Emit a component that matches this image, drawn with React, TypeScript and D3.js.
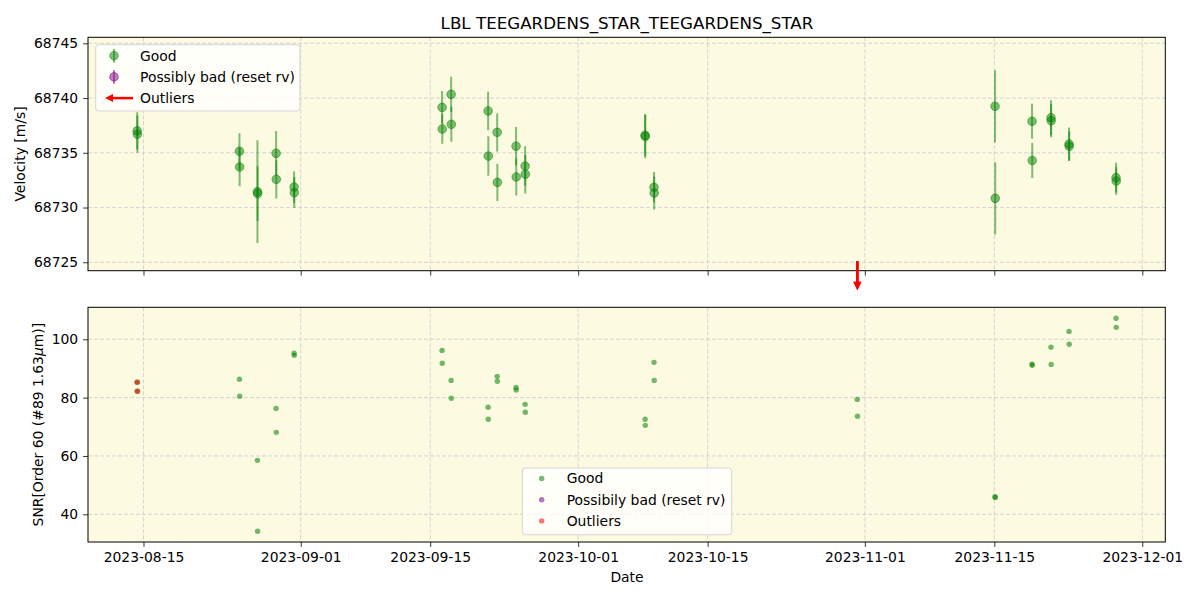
import React, { useEffect, useRef } from 'react';
import * as d3 from 'd3';

// observation times (two exposures per night)
const dates = [
    '2023-08-14T07:40', '2023-08-14T08:10',
    '2023-08-25T09:00', '2023-08-25T09:30',
    '2023-08-27T07:40', '2023-08-27T08:10',
    '2023-08-29T08:10', '2023-08-29T08:40',
    '2023-08-31T06:50', '2023-08-31T07:20',
    '2023-09-16T06:50', '2023-09-16T07:20',
    '2023-09-17T06:20', '2023-09-17T06:50',
    '2023-09-21T06:20', '2023-09-21T06:50',
    '2023-09-22T05:50', '2023-09-22T06:20',
    '2023-09-24T06:50', '2023-09-24T07:20',
    '2023-09-25T06:20', '2023-09-25T06:50',
    '2023-10-08T05:40', '2023-10-08T06:10',
    '2023-10-09T04:50', '2023-10-09T05:20',
    '2023-10-31T04:20', '2023-10-31T04:50',
    '2023-11-15T01:50', '2023-11-15T02:20',
    '2023-11-19T01:50', '2023-11-19T02:20',
    '2023-11-21T03:00', '2023-11-21T03:30',
    '2023-11-23T01:50', '2023-11-23T02:20',
    '2023-11-28T03:50', '2023-11-28T04:20',
];

const velocity = [
    68737.0, 68736.7,
    68735.14, 68733.7,
    68731.45, 68731.27,
    68734.95, 68732.58,
    68731.87, 68731.36,
    68739.15, 68737.17,
    68740.34, 68737.6,
    68738.82, 68734.7,
    68736.87, 68732.3,
    68735.6, 68732.79,
    68733.79, 68733.04,
    68736.6, 68736.5,
    68731.85, 68731.33,
    68712.0, 68713.0,
    68739.25, 68730.84,
    68737.88, 68734.3,
    68738.2, 68737.93,
    68735.8, 68735.6,
    68732.73, 68732.42,
];

const velocityErr = [
    1.7, 1.7,
    1.65, 1.75,
    4.7, 2.5,
    2.05, 1.75,
    1.45, 1.4,
    1.5, 1.35,
    1.6, 1.6,
    1.75, 1.8,
    1.75, 1.7,
    1.75, 1.7,
    1.8, 1.75,
    1.9, 2.0,
    1.4, 1.5,
    1.8, 1.8,
    3.3, 3.3,
    1.6, 1.6,
    1.6, 1.5,
    1.5, 1.35,
    1.35, 1.25,
];

const snr = [
    85.3, 82.2,
    86.3, 80.5,
    58.5, 34.2,
    76.3, 68.1,
    95.2, 94.5,
    96.2, 91.8,
    85.9, 79.8,
    76.7, 72.6,
    87.3, 85.6,
    83.5, 82.6,
    77.7, 75.0,
    72.6, 70.5,
    92.1, 85.9,
    79.4, 73.6,
    46.0, 45.8,
    91.5, 91.1,
    97.3, 91.4,
    102.7, 98.3,
    107.2, 104.1,
];

// flagged as outliers in the SNR panel
const outlierFlag = [
    true, true,
    false, false, false, false, false, false, false, false,
    false, false, false, false, false, false, false, false,
    false, false, false, false, false, false, false, false,
    false, false, false, false, false, false, false, false,
    false, false, false, false,
];

const xTicks = ['2023-08-15', '2023-09-01', '2023-09-15', '2023-10-01', '2023-10-15', '2023-11-01', '2023-11-15', '2023-12-01'];
const rvTicks = [68725, 68730, 68735, 68740, 68745];
const snrTicks = [40, 60, 80, 100];
const legendLabels = ['Good', 'Possibly bad (reset rv)', 'Outliers'];
const legendLabels2 = ['Good', 'Possibily bad (reset rv)', 'Outliers'];

const FONT = 'DejaVu Sans, sans-serif';
const BG = '#fcfae1';
const GRID = '#cfcfd4';

function App() {
    const ref = useRef<SVGSVGElement>(null);

    useEffect(() => {
        document.body.style.margin = '0';
        const svg = d3.select(ref.current);
        svg.selectAll('*').remove();

        const w = 1200, h = 600;
        const left = 88, right = 1165.3;
        const top1 = 37.3, bottom1 = 270.7;
        const top2 = 307.3, bottom2 = 542;

        const parse = d3.timeParse('%Y-%m-%dT%H:%M');
        const parseDay = d3.timeParse('%Y-%m-%d');
        const fmt = d3.timeFormat('%Y-%m-%d');
        const times = dates.map(d => parse(d) as Date);

        const x = d3.scaleTime()
            .domain([parse('2023-08-09T00:00') as Date, parse('2023-12-03T11:40') as Date])
            .range([left, right]);
        const yRv = d3.scaleLinear().domain([68724.23, 68745.55]).range([bottom1, top1]);
        const ySnr = d3.scaleLinear().domain([30.5, 110.97]).range([bottom2, top2]);

        svg.attr('width', w).attr('height', h).style('font-family', FONT);
        svg.append('rect').attr('width', w).attr('height', h).attr('fill', 'white');

        const tickDates = xTicks.map(t => parseDay(t) as Date);

        const drawFrame = (top: number, bottom: number, y: d3.ScaleLinear<number, number>, ticks: number[], showX: boolean) => {
            const g = svg.append('g');
            g.append('rect').attr('x', left).attr('y', top).attr('width', right - left).attr('height', bottom - top).attr('fill', BG);
            // grid
            g.selectAll('.gx').data(tickDates).enter().append('line')
                .attr('x1', d => x(d)).attr('x2', d => x(d)).attr('y1', top).attr('y2', bottom)
                .attr('stroke', GRID).attr('stroke-width', 0.9).attr('stroke-dasharray', '4,2');
            g.selectAll('.gy').data(ticks).enter().append('line')
                .attr('x1', left).attr('x2', right).attr('y1', d => y(d)).attr('y2', d => y(d))
                .attr('stroke', GRID).attr('stroke-width', 0.9).attr('stroke-dasharray', '4,2');
            // y axis
            const ya = svg.append('g').attr('transform', `translate(${left},0)`)
                .call(d3.axisLeft(y).tickValues(ticks).tickSize(4.9).tickPadding(4.9).tickFormat(d3.format('d')));
            ya.select('.domain').remove();
            ya.selectAll('text').attr('font-size', 13.9).attr('font-family', FONT).attr('fill', 'black');
            ya.selectAll('line').attr('stroke', 'black').attr('stroke-width', 0.8);
            // x axis
            const xa = svg.append('g').attr('transform', `translate(0,${bottom})`)
                .call(d3.axisBottom(x).tickValues(tickDates).tickSize(4.9).tickPadding(4.9).tickFormat(d => fmt(d as Date)));
            xa.select('.domain').remove();
            xa.selectAll('line').attr('stroke', 'black').attr('stroke-width', 0.8);
            if (showX) {
                xa.selectAll('text').attr('font-size', 13.9).attr('font-family', FONT).attr('fill', 'black');
            } else {
                xa.selectAll('text').remove();
            }
            return g;
        };

        // ---- top panel: velocity
        const g1 = drawFrame(top1, bottom1, yRv, rvTicks, false);
        svg.append('clipPath').attr('id', 'clip1').append('rect')
            .attr('x', left).attr('y', top1).attr('width', right - left).attr('height', bottom1 - top1);
        const pts1 = svg.append('g').attr('clip-path', 'url(#clip1)');
        const idx = d3.range(dates.length);
        pts1.selectAll('.err').data(idx).enter().append('line')
            .attr('x1', i => x(times[i])).attr('x2', i => x(times[i]))
            .attr('y1', i => yRv(velocity[i] - velocityErr[i])).attr('y2', i => yRv(velocity[i] + velocityErr[i]))
            .attr('stroke', 'green').attr('stroke-opacity', 0.5).attr('stroke-width', 2);
        pts1.selectAll('.pt').data(idx).enter().append('circle')
            .attr('cx', i => x(times[i])).attr('cy', i => yRv(velocity[i])).attr('r', 4.3)
            .attr('fill', 'green').attr('fill-opacity', 0.5)
            .attr('stroke', 'green').attr('stroke-opacity', 0.5).attr('stroke-width', 1);

        // off-scale velocities shown as arrows
        const [lo] = yRv.domain();
        const off = idx.filter(i => velocity[i] < lo);
        const arrow = svg.append('g');
        off.forEach(i => {
            const cx = x(times[i]);
            arrow.append('line').attr('x1', cx).attr('x2', cx).attr('y1', bottom1 - 9.5).attr('y2', bottom1 + 12)
                .attr('stroke', 'red').attr('stroke-width', 2.5);
            arrow.append('path')
                .attr('d', `M${cx - 4},${bottom1 + 11} L${cx + 4},${bottom1 + 11} L${cx},${bottom1 + 19.5} Z`)
                .attr('fill', 'red');
        });

        g1.raise();
        pts1.raise();
        svg.append('rect').attr('x', left).attr('y', top1).attr('width', right - left).attr('height', bottom1 - top1)
            .attr('fill', 'none').attr('stroke', 'black').attr('stroke-width', 1);
        arrow.raise();

        // legend top
        const lg1 = svg.append('g');
        lg1.append('rect').attr('x', 95.7).attr('y', 44.7).attr('width', 204.3).attr('height', 66.3).attr('rx', 3)
            .attr('fill', 'white').attr('fill-opacity', 0.8).attr('stroke', '#d5d5d5').attr('stroke-width', 1);
        const legColors = ['green', 'purple'];
        legendLabels.forEach((lab, k) => {
            const cy = 55.7 + k * 21.2;
            if (k < 2) {
                lg1.append('line').attr('x1', 114).attr('x2', 114).attr('y1', cy - 7).attr('y2', cy + 7)
                    .attr('stroke', legColors[k]).attr('stroke-opacity', 0.5).attr('stroke-width', 2);
                lg1.append('circle').attr('cx', 114).attr('cy', cy).attr('r', 4.3)
                    .attr('fill', legColors[k]).attr('fill-opacity', 0.5)
                    .attr('stroke', legColors[k]).attr('stroke-opacity', 0.5);
            } else {
                lg1.append('line').attr('x1', 133).attr('x2', 112).attr('y1', cy).attr('y2', cy)
                    .attr('stroke', 'red').attr('stroke-width', 2.5);
                lg1.append('path').attr('d', `M${113},${cy - 4} L${113},${cy + 4} L${105},${cy} Z`).attr('fill', 'red');
            }
            lg1.append('text').attr('x', 140).attr('y', cy).attr('dy', '0.35em')
                .attr('font-size', 13.9).attr('fill', 'black').text(lab);
        });

        // ---- bottom panel: SNR
        drawFrame(top2, bottom2, ySnr, snrTicks, true);
        const pts2 = svg.append('g');
        pts2.selectAll('.s').data(idx).enter().append('circle')
            .attr('cx', i => x(times[i])).attr('cy', i => ySnr(snr[i])).attr('r', 2.7)
            .attr('fill', 'green').attr('fill-opacity', 0.55);
        pts2.selectAll('.o').data(idx.filter(i => outlierFlag[i])).enter().append('circle')
            .attr('cx', i => x(times[i])).attr('cy', i => ySnr(snr[i])).attr('r', 2.7)
            .attr('fill', 'red').attr('fill-opacity', 0.55);
        svg.append('rect').attr('x', left).attr('y', top2).attr('width', right - left).attr('height', bottom2 - top2)
            .attr('fill', 'none').attr('stroke', 'black').attr('stroke-width', 1);

        const lg2 = svg.append('g');
        lg2.append('rect').attr('x', 522.3).attr('y', 468).attr('width', 209.4).attr('height', 66.7).attr('rx', 3)
            .attr('fill', 'white').attr('fill-opacity', 0.8).attr('stroke', '#d5d5d5').attr('stroke-width', 1);
        const legColors2 = ['green', 'purple', 'red'];
        legendLabels2.forEach((lab, k) => {
            const cy = 478.5 + k * 21.2;
            lg2.append('circle').attr('cx', 541.7).attr('cy', cy).attr('r', 2.7)
                .attr('fill', legColors2[k]).attr('fill-opacity', 0.55);
            lg2.append('text').attr('x', 566.7).attr('y', cy).attr('dy', '0.35em')
                .attr('font-size', 13.9).attr('fill', 'black').text(lab);
        });

        // titles and labels
        svg.append('text').attr('x', 627).attr('y', 29).attr('text-anchor', 'middle')
            .attr('font-size', 16.7).attr('fill', 'black').text('LBL TEEGARDENS_STAR_TEEGARDENS_STAR');
        svg.append('text').attr('x', 627).attr('y', 582).attr('text-anchor', 'middle')
            .attr('font-size', 13.9).attr('fill', 'black').text('Date');
        svg.append('text').attr('transform', `translate(25,${(top1 + bottom1) / 2}) rotate(-90)`)
            .attr('text-anchor', 'middle').attr('font-size', 13.9).attr('fill', 'black').text('Velocity [m/s]');
        const sl = svg.append('text').attr('transform', `translate(42.5,${(top2 + bottom2) / 2}) rotate(-90)`)
            .attr('text-anchor', 'middle').attr('font-size', 13.9).attr('fill', 'black');
        sl.append('tspan').text('SNR[Order 60 (#89 1.63');
        sl.append('tspan').attr('font-style', 'italic').text('μ');
        sl.append('tspan').text('m)]');
    }, []);

    return <svg ref={ref} style={{ display: 'block' }}></svg>;
}

export default App;
